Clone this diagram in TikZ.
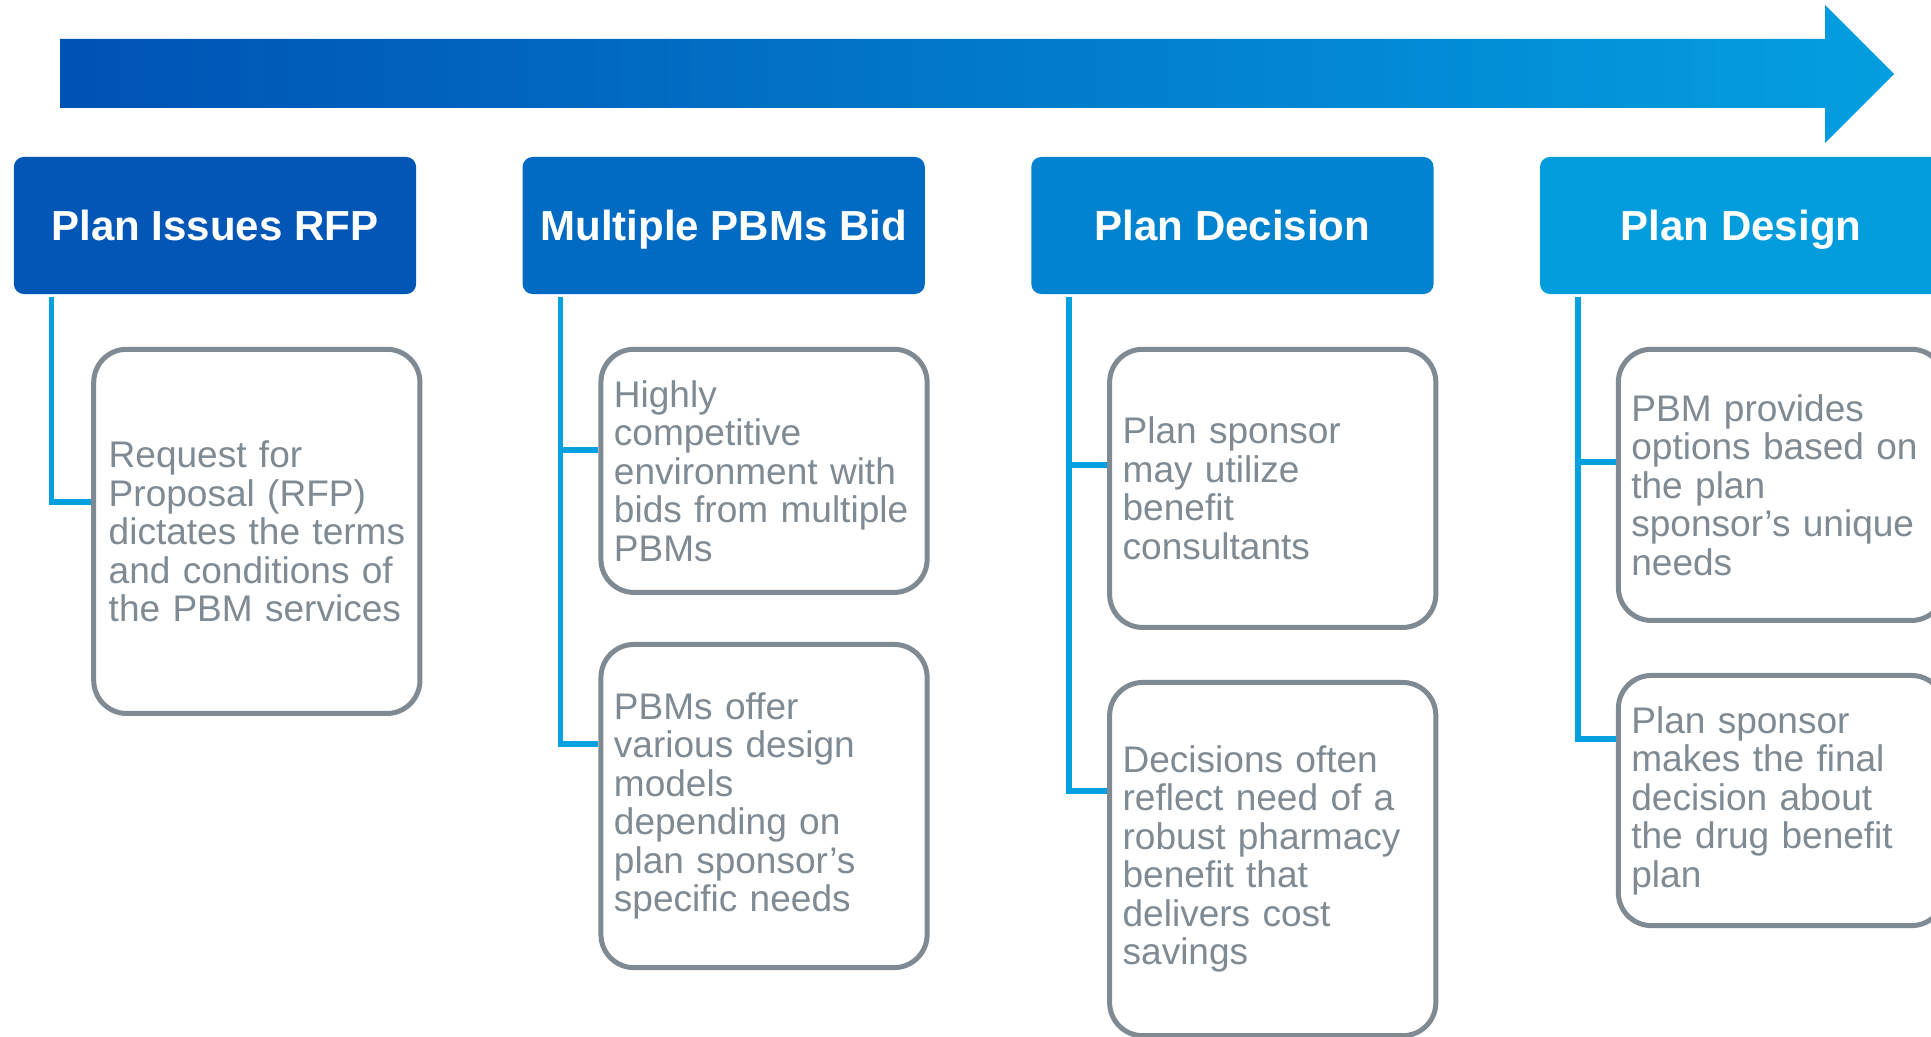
\documentclass[tikz,border=0pt]{standalone}
\usepackage{fontspec}
\setmainfont{Liberation Sans}
\usetikzlibrary{positioning, calc}

\definecolor{flowL}{HTML}{0052B4}
\definecolor{flowR}{HTML}{049FE0}
\definecolor{stepA}{HTML}{0256B6}
\definecolor{stepB}{HTML}{016BC4}
\definecolor{stepC}{HTML}{0283D0}
\definecolor{stepD}{HTML}{039DDD}
\definecolor{linkblue}{HTML}{05A0E0}
\definecolor{boxgray}{HTML}{7F8A93}

\begin{document}
\begin{tikzpicture}[
		x=0.01cm, y=-0.01cm,
		node distance=0.5cm and 1.05cm,
		phase/.style={rectangle, rounded corners=0.1cm, minimum width=4.02cm, minimum height=1.37cm, inner sep=0pt, text height=0.30cm, text depth=0pt, text=white, font=\fontsize{11.95}{14}\selectfont\bfseries},
		detail/.style={draw=boxgray, line width=0.05cm, rounded corners=0.33cm, fill=white, text=boxgray, align=left, text width=3.0cm, inner xsep=0.13cm, inner ysep=0pt, anchor=north west, font=\fontsize{10.53}{10.95}\selectfont},
		link/.style={draw=linkblue, line width=0.055cm}
		]

		\useasboundingbox (0,0) rectangle (1931,1037);
		\clip (0,0) rectangle (1931,1037);

		% Timeline
		\shade[left color=flowL, right color=flowR] (60,39) -- (1825,39) -- (1825,5) -- (1894,74) -- (1825,143) -- (1825,108) -- (60,108) -- cycle;

		% Phases
		\node[phase, fill=stepA] (rfp) at (215,225.5) {Plan Issues RFP};
		\node[phase, fill=stepB, right=of rfp] (bid) {Multiple PBMs Bid};
		\node[phase, fill=stepC, right=of bid] (decide) {Plan Decision};
		\node[phase, fill=stepD, right=of decide] (design) {Plan Design};

		% Details
		\node[detail, minimum height=3.64cm, inner xsep=0.15cm, text width=2.96cm] (rfpA) at ([xshift=0.78cm, yshift=-0.52cm]rfp.south west) {Request for\\Proposal (RFP)\\dictates~the~terms\\and conditions of\\the PBM services};
		\node[detail, minimum height=2.43cm] (bidA) at ([xshift=0.765cm, yshift=-0.52cm]bid.south west) {Highly\\competitive\\environment with\\bids~from~multiple\\PBMs};
		\node[detail, minimum height=3.23cm, below=0.47cm of bidA] (bidB) {PBMs offer\\various design\\models\\depending on\\plan sponsor’s\\specific needs};
		\node[detail, minimum height=2.78cm] (decideA) at ([xshift=0.765cm, yshift=-0.52cm]decide.south west) {Plan sponsor\\may utilize\\benefit\\consultants};
		\node[detail, minimum height=3.53cm, below=0.5cm of decideA] (decideB) {Decisions often\\reflect need of a\\robust pharmacy\\benefit that\\delivers cost\\savings};
		\node[detail, minimum height=2.71cm] (designA) at ([xshift=0.765cm, yshift=-0.52cm]design.south west) {PBM provides\\options~based~on\\the plan\\sponsor’s~unique\\needs};
		\node[detail, minimum height=2.50cm, below=0.5cm of designA] (designB) {Plan sponsor\\makes the final\\decision about\\the drug benefit\\plan};

		% Connectors
		\coordinate (rfpS) at ([xshift=0.385cm, yshift=-0.02cm]rfp.south west);
		\coordinate (bidS) at ([xshift=0.385cm, yshift=-0.02cm]bid.south west);
		\coordinate (decideS) at ([xshift=0.385cm, yshift=-0.02cm]decide.south west);
		\coordinate (designS) at ([xshift=0.385cm, yshift=-0.02cm]design.south west);

		\draw[link] (rfpS) |- ($(rfpA.north west)+(0,155)$);
		\draw[link] (bidS) |- ($(bidB.north west)+(0,102)$);
		\draw[link] ($(bidA.north west)+(0,103)$) -| (bidS);
		\draw[link] (decideS) |- ($(decideB.north west)+(0,111)$);
		\draw[link] ($(decideA.north west)+(0,118)$) -| (decideS);
		\draw[link] (designS) |- ($(designB.north west)+(0,66)$);
		\draw[link] ($(designA.north west)+(0,115)$) -| (designS);

	\end{tikzpicture}
\end{document}
